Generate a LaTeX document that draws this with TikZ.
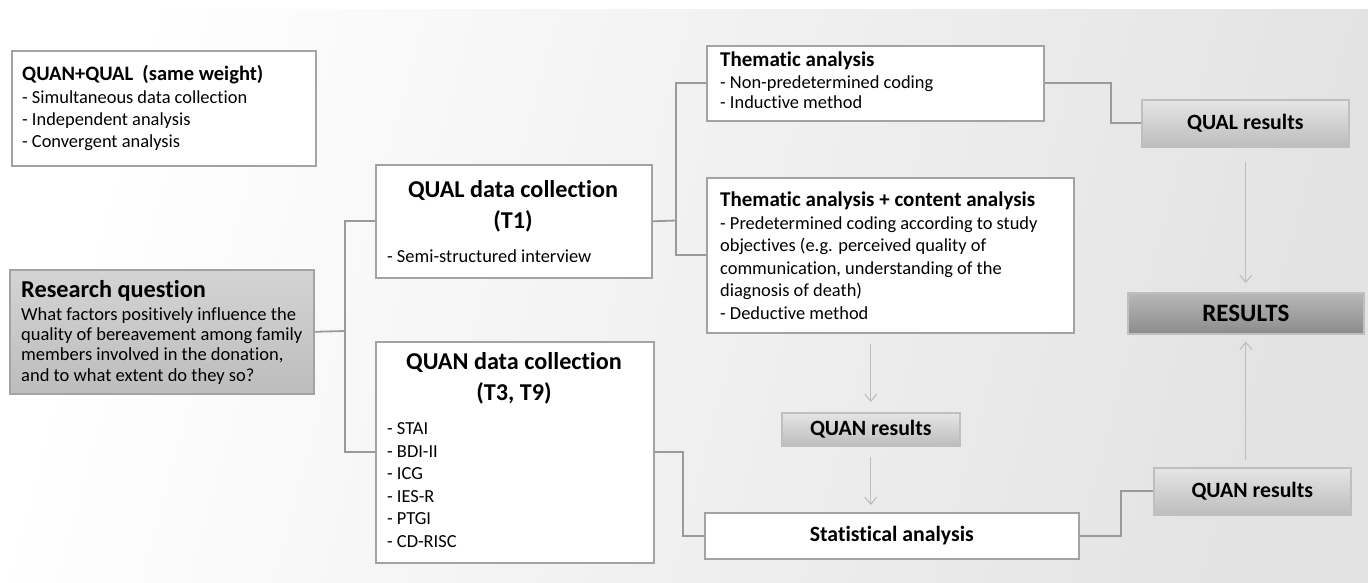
\documentclass[tikz,border=0pt]{standalone}
\usepackage{fontspec}
\setmainfont[Ligatures=NoCommon]{Carlito}
\usetikzlibrary{arrows.meta}
\definecolor{boxline}{HTML}{A3A3A3}
\definecolor{connline}{HTML}{9A9A9A}
\definecolor{arrline}{HTML}{BDBDBD}
\tikzset{
  box/.style={draw=boxline, line width=1.6pt, fill=white, inner sep=0pt, anchor=north west},
  graybox/.style={box, draw=boxline!70, top color=black!10, bottom color=black!26},
  darkbox/.style={box, draw=boxline!70, top color=black!28, bottom color=black!45},
  rqbox/.style={box, top color=black!17, bottom color=black!26},
  body/.style={inner sep=0pt, anchor=base west, font=\fontsize{18.4}{20}\selectfont},
  rqbody/.style={inner sep=0pt, anchor=base west, font=\fontsize{18.5}{20}\selectfont},
  head/.style={inner sep=0pt, anchor=base west, font=\fontsize{21}{24}\selectfont\bfseries},
  bighead/.style={inner sep=0pt, anchor=base, font=\fontsize{24.2}{26}\selectfont\bfseries},
  reslabel/.style={font=\fontsize{21.8}{24}\selectfont\bfseries},
  conn/.style={draw=connline, line width=1.8pt},
  arr/.style={draw=arrline, line width=1.1pt, -{Straight Barb[length=7pt,width=12pt]}}
}
\begin{document}
\begin{tikzpicture}[x=1pt,y=-1pt]
\useasboundingbox (0,0) rectangle (1368,583);
\shade[left color=white, right color=black!11, shading angle=75] (0,10) rectangle (1368,583);

% boxes
\node[box, minimum width=304, minimum height=115] (mix) at (11,50) {};
\node[rqbox, minimum width=304, minimum height=124] (rq) at (9,269) {};
\node[box, minimum width=276, minimum height=113] (qual) at (375,164) {};
\node[box, minimum width=278, minimum height=221] (quan) at (375,341) {};
\node[box, minimum width=337, minimum height=75] (them) at (706,45) {};
\node[box, minimum width=367, minimum height=155] (themc) at (706,177) {};
\node[graybox, minimum width=207, minimum height=47] (qualres) at (1141,99) {};
\node[darkbox, minimum width=236, minimum height=41] (results) at (1127,292) {};
\node[graybox, minimum width=178, minimum height=33] (quanres1) at (781,412) {};
\node[box, minimum width=374, minimum height=46] (stat) at (704,512) {};
\node[graybox, minimum width=197, minimum height=47] (quanres2) at (1153,467) {};

% box labels
\node[reslabel] (qualreslbl) at (qualres.center) {QUAL results};
\node[font=\fontsize{25}{28}\selectfont\bfseries] (resultslbl) at (results.center) {RESULTS};
\node[reslabel] (quanres1lbl) at (quanres1.center) {QUAN results};
\node[reslabel] (statlbl) at (stat.center) {Statistical analysis};
\node[reslabel] (quanres2lbl) at (quanres2.center) {QUAN results};

% mix text
\node[inner sep=0pt, anchor=base west, font=\fontsize{20.5}{24}\selectfont\bfseries] (mixh) at (22,80.5) {QUAN+QUAL\ \ (same weight)};
\node[body] (mix1) at (22,103.5) {- Simultaneous data collection};
\node[body] (mix2) at (22,125.5) {- Independent analysis};
\node[body] (mix3) at (22,147.5) {- Convergent analysis};

% research question
\node[inner sep=0pt, anchor=base west, font=\fontsize{24.3}{26}\selectfont\bfseries] (rqh) at (21,297.5) {Research question};
\node[rqbody] (rq1) at (21,320) {What factors positively influence the};
\node[rqbody] (rq2) at (21,340) {quality of bereavement among family};
\node[rqbody] (rq3) at (21,360) {members involved in the donation,};
\node[rqbody] (rq4) at (21,381) {and to what extent do they so?};

% QUAL data collection
\node[bighead] (qualh1) at (513,197) {QUAL data collection};
\node[bighead] (qualh2) at (513,228) {(T1)};
\node[body] (qual1) at (387,262.5) {- Semi-structured interview};

% QUAN data collection
\node[bighead] (quanh1) at (514,369) {QUAN data collection};
\node[bighead] (quanh2) at (514,400) {(T3, T9)};
\node[body] (quan1) at (387,434) {- STAI};
\node[body] (quan2) at (387,457) {- BDI-II};
\node[body] (quan3) at (387,479) {- ICG};
\node[body] (quan4) at (387,502) {- IES-R};
\node[body] (quan5) at (387,524) {- PTGI};
\node[body] (quan6) at (387,547) {- CD-RISC};

% thematic analysis
\node[head] (themh) at (720,67) {Thematic analysis};
\node[body] (them1) at (720,88.5) {- Non-predetermined coding};
\node[body] (them2) at (720,108.5) {- Inductive method};

% thematic + content
\node[head] (themch) at (720,206) {Thematic analysis + content analysis};
\node[body] (themc1) at (720,229.5) {- Predetermined coding according to study};
\node[body] (themc2) at (720,251.5) {objectives (e.g. perceived quality of};
\node[body] (themc3) at (720,274.5) {communication, understanding of the};
\node[body] (themc4) at (720,296.5) {diagnosis of death)};
\node[body] (themc5) at (720,319.5) {- Deductive method};

% junctions
\coordinate (j1) at (345,331);
\coordinate (j2) at (676,220.5);
\coordinate (j3) at (1111,100);
\coordinate (j4) at (683,500);
\coordinate (j5) at (1121,510);

% connectors
\draw[conn] (rq.east) -- (j1);
\draw[conn] (qual.west) -| (j1) |- (quan.west);
\draw[conn] (qual.east) -- (j2);
\draw[conn] (them.west) -| (j2) |- (themc.west);
\draw[conn] (them.east) -| (j3) |- (qualres.west);
\draw[conn] (quan.east) -| (j4) |- (stat.west);
\draw[conn] (stat.east) -| (j5) |- (quanres2.west);

% arrows
\draw[arr, shorten <=14pt, shorten >=9pt] (qualres.south -| results.north) -- (results.north);
\draw[arr, shorten <=7pt, shorten >=7pt] (quanres2.north -| results.south) -- (results.south);
\draw[arr, shorten <=10pt, shorten >=10pt] (quanres1.north |- themc.south) -- (quanres1.north);
\draw[arr, shorten <=10pt, shorten >=7pt] (quanres1.south) -- (quanres1.south |- stat.north);
\end{tikzpicture}
\end{document}
